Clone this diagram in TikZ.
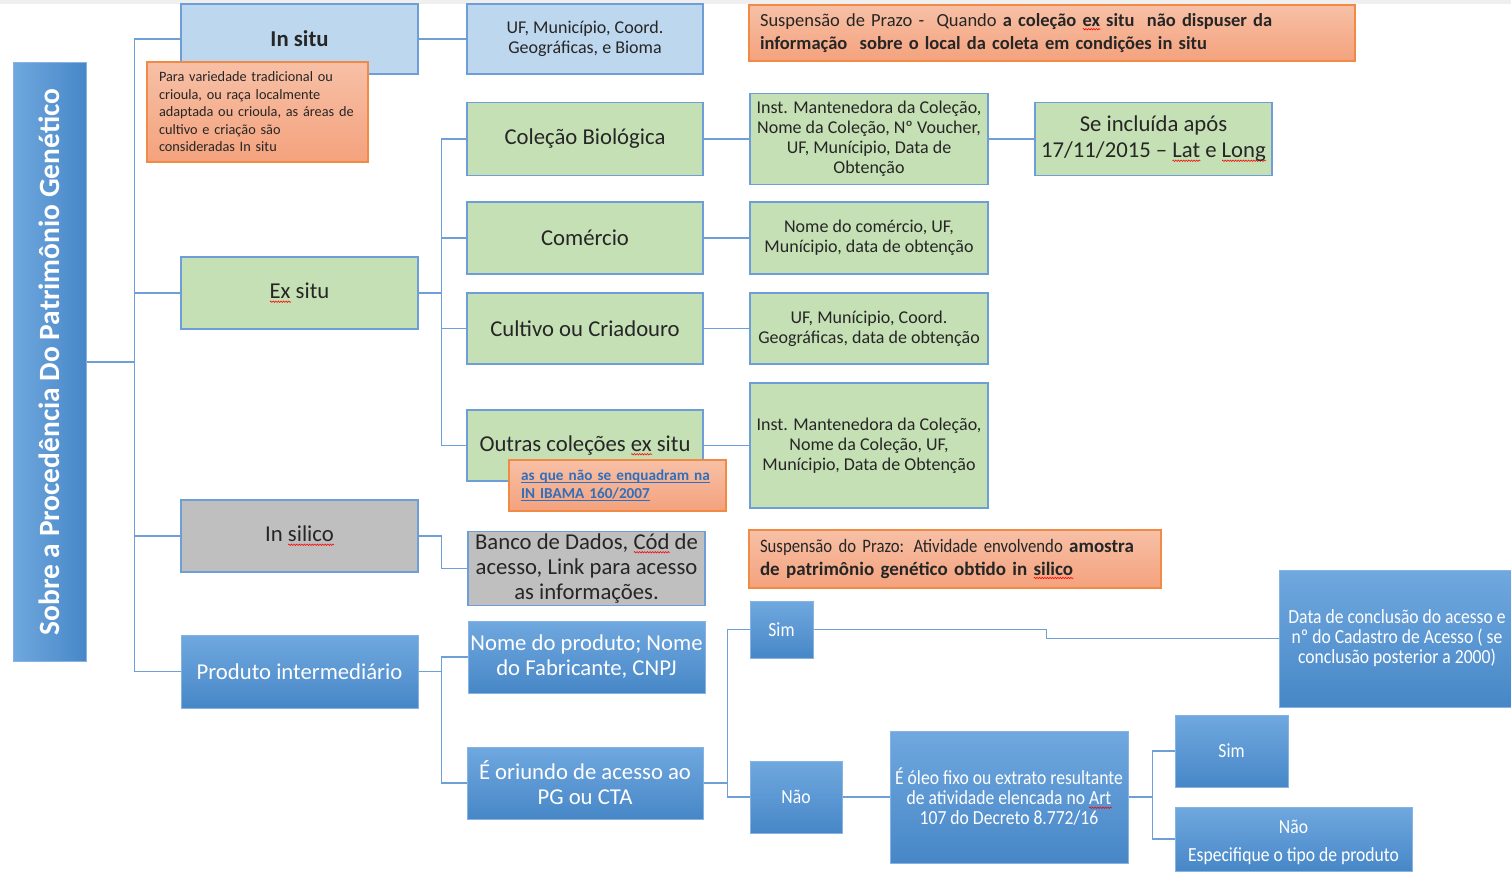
\documentclass[tikz,border=0pt]{standalone}
\usepackage{fontspec}
\setmainfont{Carlito}
\usetikzlibrary{calc,decorations.pathmorphing}

\definecolor{txt}{HTML}{262626}
\definecolor{ltfill}{HTML}{BDD7EE}
\definecolor{grfill}{HTML}{C5E0B4}
\definecolor{gyfill}{HTML}{BFBFBF}
\definecolor{edge}{HTML}{6E9ED8}
\definecolor{blueT}{HTML}{70A8DF}
\definecolor{blueB}{HTML}{4787C7}
\definecolor{blueEdge}{HTML}{86B3E2}
\definecolor{orT}{HTML}{F7C0A6}
\definecolor{orB}{HTML}{F4A27D}
\definecolor{orEdge}{HTML}{F08A45}
\definecolor{connc}{HTML}{6E9FD6}
\definecolor{linkc}{HTML}{2F6FBE}
\definecolor{strip}{HTML}{EFEFEF}

% condensed face for the small captions
\newfontfamily\narrowfont[FakeStretch=0.88]{Carlito}

% red wavy underline under a word
\newlength\sqwd
\newcommand\sqw[1]{\settowidth\sqwd{#1}\makebox[0pt][l]{\tikz[x=1pt,y=1pt,baseline=0pt]\draw[red, line width=0.55pt, decorate, decoration={zigzag, amplitude=0.75pt, segment length=2.6pt}] (0,-2.8) -- (\sqwd,-2.8);}#1}
% straight link underline
\newcommand\lnk[1]{\settowidth\sqwd{#1}\makebox[0pt][l]{\tikz[x=1pt,y=1pt,baseline=0pt]\draw[linkc, line width=0.9pt] (0,-2.3) -- (\sqwd,-2.3);}#1}

\pgfdeclarelayer{bg}
\pgfsetlayers{bg,main}

\tikzset{
  box/.style={draw=edge, line width=1.2pt, inner sep=2pt, align=center, text=txt},
  sz/.style 2 args={minimum width=#1pt, minimum height=#2pt},
  fs/.style 2 args={font=\fontsize{#1}{#2}\selectfont},
  big/.style={font=\fontsize{22.7}{25}\selectfont},
  small/.style={font=\fontsize{18}{20}\selectfont},
  narrow/.style={font=\narrowfont\fontsize{20}{20}\selectfont},
  lbbox/.style={box, fill=ltfill},
  gbox/.style={box, fill=grfill},
  gybox/.style={box, fill=gyfill},
  bbox/.style={box, draw=blueEdge, line width=1pt, top color=blueT, bottom color=blueB, text=white},
  obox/.style={box, draw=orEdge, line width=1.2pt, top color=orT, bottom color=orB},
  conn/.style={draw=connc, line width=1.6pt},
}

\begin{document}
\begin{tikzpicture}[x=1pt, y=-1pt]
\useasboundingbox (0,0) rectangle (1511,872);

% root column
\node[bbox, left color=blueT, right color=blueB, sz={73}{598}] (root) at (49.5,362) {};
\node[rotate=90, text=white, font=\fontsize{29.4}{34}\selectfont\bfseries] (roottext) at (root.center) {Sobre a Procedência Do Patrimônio Genético};

% in situ branch
\node[lbbox, sz={237}{70}, big] (insitu) at (299.5,39) {\bfseries In situ};
\node[lbbox, sz={236}{70}, small] (ufis) at (585,39) {UF, Município, Coord.\\Geográficas, e Bioma};

% ex situ branch
\node[gbox, sz={237}{72}, big] (exsitu) at (299.5,293) {\sqw{Ex} situ};
\node[gbox, sz={236}{73}, big] (colbio) at (585,139) {Coleção Biológica};
\node[gbox, sz={236}{72}, big] (comercio) at (585,238) {Comércio};
\node[gbox, sz={236}{71}, big] (cultivo) at (585,328.5) {Cultivo ou Criadouro};
\node[gbox, sz={236}{71}, big] (outras) at (585,445.5) {Outras coleções \sqw{ex} situ};

\node[gbox, sz={238}{91}, small] (inst1) at (869,139) {Inst. Mantenedora da Coleção,\\Nome da Coleção, Nº Voucher,\\UF, Munícipio, Data de\\Obtenção};
\node[gbox, sz={238}{72}, small] (nomecom) at (869,238) {Nome do comércio, UF,\\Munícipio, data de obtenção};
\node[gbox, sz={238}{71}, small] (ufcoord) at (869,328.5) {UF, Munícipio, Coord.\\Geográficas, data de obtenção};
\node[gbox, sz={238}{125}, small] (inst2) at (869,445.5) {Inst. Mantenedora da Coleção,\\Nome da Coleção, UF,\\Munícipio, Data de Obtenção};
\node[gbox, sz={237}{73}, fs={22.7}{26}] (seinc) at (1153.5,139) {Se incluída após\\17/11/2015 – \sqw{Lat} e \sqw{Long}};

% in silico branch
\node[gybox, sz={237}{72}, big] (insilico) at (299.5,536) {In \sqw{silico}};
\node[gybox, sz={237}{71}, big] (banco) at (586.5,568.5) {Banco de Dados, \sqw{Cód} de\\acesso, Link para acesso\\as informações.};

% intermediate product branch
\node[bbox, sz={237}{73}, big] (prod) at (299.5,671.5) {Produto intermediário};
\node[bbox, sz={237}{72}, big] (nomeprod) at (586.5,657) {Nome do produto; Nome\\do Fabricante, CNPJ};
\node[bbox, sz={236}{72}, big] (oriundo) at (585,783) {É oriundo de acesso ao\\PG ou CTA};
\node[bbox, sz={63}{57}, narrow] (sim) at (781.5,629.5) {Sim};
\node[bbox, sz={92}{72}, narrow] (nao) at (796,797) {Não};
\node[bbox, sz={236}{137}, narrow] (data) at (1397,638.5) {Data de conclusão do acesso e\\nº do Cadastro de Acesso ( se\\conclusão posterior a 2000)};
\node[bbox, sz={238}{132}, narrow] (oleo) at (1009,797) {É óleo fixo ou extrato resultante\\de atividade elencada no \sqw{Art}\\107 do Decreto 8.772/16};
\node[bbox, sz={113}{72}, narrow] (sim2) at (1231.5,751) {Sim};
\node[bbox, sz={237}{64}] (nao2) at (1293.5,839) {};
\node[narrow, text=white, align=center] (nao2t) at ($(nao2.center)+(0,3)$) {Não\\[8pt]Especifique o tipo de produto};

% notes
\node[obox, sz={221}{100}, fs={14.3}{17.5}, align=left, text width=197pt] (note1) at (257.5,112)
  {Para variedade tradicional ou\\crioula, ou raça localmente\\adaptada ou crioula, as áreas de\\cultivo e criação são\\consideradas In situ};
\node[obox, sz={606}{56}, fs={18.5}{23}, align=left, text width=584pt] (note0) at (1052,33)
  {Suspensão de Prazo -\ \ Quando \textbf{a coleção \sqw{ex} situ\ \ não dispuser da}\\\textbf{informação\ \ sobre o local da coleta em condições in situ}};
\node[obox, sz={217}{51}, fs={15.2}{18}, align=left, text width=193pt, text=linkc] (note2) at (617.5,485.5)
  {\bfseries\lnk{as que não se enquadram na}\\\lnk{IN IBAMA 160/2007}};
\node[obox, sz={412}{58}, fs={19}{23}, align=left, text width=390pt] (note3) at (955,559)
  {{\narrowfont\fontsize{19}{23}\selectfont Suspensão do Prazo: Atividade envolvendo} \textbf{amostra}\\\textbf{de patrimônio genético obtido in \sqw{silico}}};

% connectors
\begin{pgfonlayer}{bg}
\fill[strip] (0,0) rectangle (1511,4.5);
\draw[conn] (root.east) -- ++(48,0) coordinate (tr);
\draw[conn] (tr) |- (insitu.west);
\draw[conn] (tr) |- (exsitu.west);
\draw[conn] (tr) |- (insilico.west);
\draw[conn] (tr) |- (prod.west);
\draw[conn] (insitu.east) -- (ufis.west);

\draw[conn] (exsitu.east) -- ++(23,0) coordinate (ej);
\draw[conn] (ej) |- (colbio.west);
\draw[conn] (ej) |- (comercio.west);
\draw[conn] (ej) |- (cultivo.west);
\draw[conn] (ej) |- (outras.west);
\draw[conn] (colbio.east) -- (inst1.west);
\draw[conn] (inst1.east) -- (seinc.west);
\draw[conn] (comercio.east) -- (nomecom.west);
\draw[conn] (cultivo.east) -- (ufcoord.west);
\draw[conn] (outras.east) -- (inst2.west);

\draw[conn] (insilico.east) -- ++(23,0) |- (banco.west);

\draw[conn] (prod.east) -- ++(23,0) coordinate (pj);
\draw[conn] (pj) |- (nomeprod.west);
\draw[conn] (pj) |- (oriundo.west);
\draw[conn] (oriundo.east) -- ++(24,0) coordinate (oj);
\draw[conn] (oj) |- (sim.west);
\draw[conn] (oj) |- (nao.west);
\draw[conn] (sim.east) -- ++(233,0) |- (data.west);
\draw[conn] (nao.east) -- (oleo.west);
\draw[conn] (oleo.east) -- ++(24,0) coordinate (lj);
\draw[conn] (lj) |- (sim2.west);
\draw[conn] (lj) |- (nao2.west);
\end{pgfonlayer}
\end{tikzpicture}
\end{document}
